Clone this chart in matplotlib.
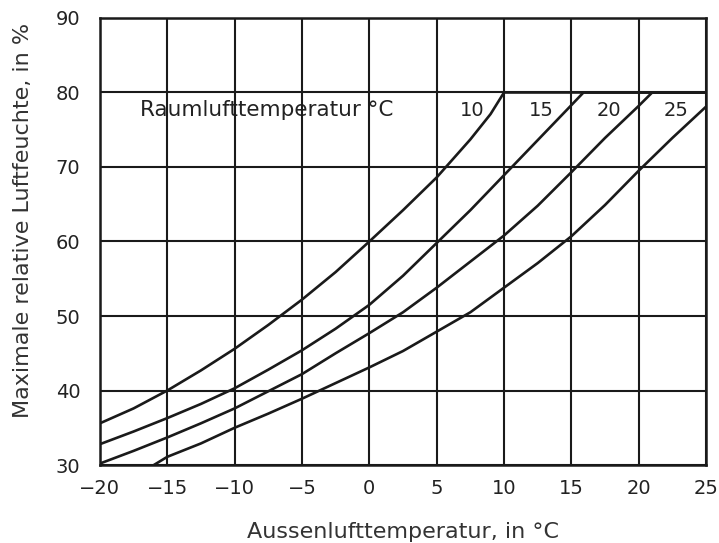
import matplotlib.pyplot as plt

plt.rcParams['font.family'] = ['DejaVu Sans']

# Raumlufttemperatur 10 °C
x10 = [-20, -17.5, -15, -12.5, -10, -7.5, -5, -2.5, 0, 2.5, 5, 7.5, 9, 10, 25]
y10 = [35.6, 37.6, 40.0, 42.7, 45.6, 48.8, 52.2, 55.9, 60.0, 64.2, 68.6, 73.7, 77.1, 80, 80]

# Raumlufttemperatur 15 °C
x15 = [-20, -17.5, -15, -12.5, -10, -7.5, -5, -2.5, 0, 2.5, 5, 7.5, 10, 12.5, 15, 15.9, 25]
y15 = [32.8, 34.5, 36.3, 38.2, 40.3, 42.8, 45.4, 48.3, 51.5, 55.4, 59.8, 64.2, 68.9, 73.6, 78.3, 80, 80]

# Raumlufttemperatur 20 °C
x20 = [-20, -17.5, -15, -12.5, -10, -7.5, -5, -2.5, 0, 2.5, 5, 7.5, 10, 12.5, 15, 17.5, 20, 21, 25]
y20 = [30.2, 31.9, 33.7, 35.6, 37.6, 39.9, 42.2, 45.0, 47.7, 50.5, 53.8, 57.3, 60.8, 64.8, 69.3, 73.9, 78.2, 80, 80]

# Raumlufttemperatur 25 °C
x25 = [-16, -15, -12.5, -10, -7.5, -5, -2.5, 0, 2.5, 5, 7.5, 10, 12.5, 15, 17.5, 20, 22.5, 25]
y25 = [30, 31.1, 32.9, 35.0, 36.9, 38.9, 41.0, 43.1, 45.3, 47.9, 50.5, 53.8, 57.1, 60.7, 64.9, 69.5, 73.9, 78.1]

kurven = [(x10, y10), (x15, y15), (x20, y20), (x25, y25)]
beschriftung = ["10", "15", "20", "25"]
label_x = [7.6, 12.8, 17.8, 22.8]

xticks = [-20, -15, -10, -5, 0, 5, 10, 15, 20, 25]
xtick_labels = ["\u221220", "\u221215", "\u221210", "\u22125", "0", "5", "10", "15", "20", "25"]
yticks = [30, 40, 50, 60, 70, 80, 90]

fig = plt.figure(figsize=(7.19, 5.43), dpi=100)
ax = fig.add_axes([0.139, 0.1436, 0.843, 0.8233])

for x, y in kurven:
    ax.plot(x, y, color="#1a1a1a", lw=1.9, solid_capstyle="butt")

ax.set_xlim(-20, 25)
ax.set_ylim(30, 90)
ax.set_xticks(xticks)
ax.set_xticklabels(xtick_labels)
ax.set_yticks(yticks)
ax.grid(True, color="#1a1a1a", lw=1.5)
ax.set_axisbelow(True)
for s in ax.spines.values():
    s.set_linewidth(1.8)
    s.set_color("#1a1a1a")
ax.tick_params(length=0, labelsize=14, labelcolor="#222222")
ax.tick_params(axis="y", pad=14)
ax.tick_params(axis="x", pad=10)

ax.text(-17.0, 77.6, "Raumlufttemperatur °C", fontsize=15.5, color="#222222",
        va="center", ha="left", zorder=0.4)
for t, lx in zip(beschriftung, label_x):
    ax.text(lx, 77.6, t, fontsize=14, color="#222222", va="center", ha="center", zorder=0.4)

fig.text(403 / 719, 5 / 543, "Aussenlufttemperatur, in °C", fontsize=16,
         color="#333333", ha="center", va="baseline")
fig.text(23 / 719, 1 - 220 / 543, "Maximale relative Luftfeuchte, in %", fontsize=16,
         color="#333333", ha="center", va="center", rotation=90)

fig.savefig("out.png", dpi=100)
